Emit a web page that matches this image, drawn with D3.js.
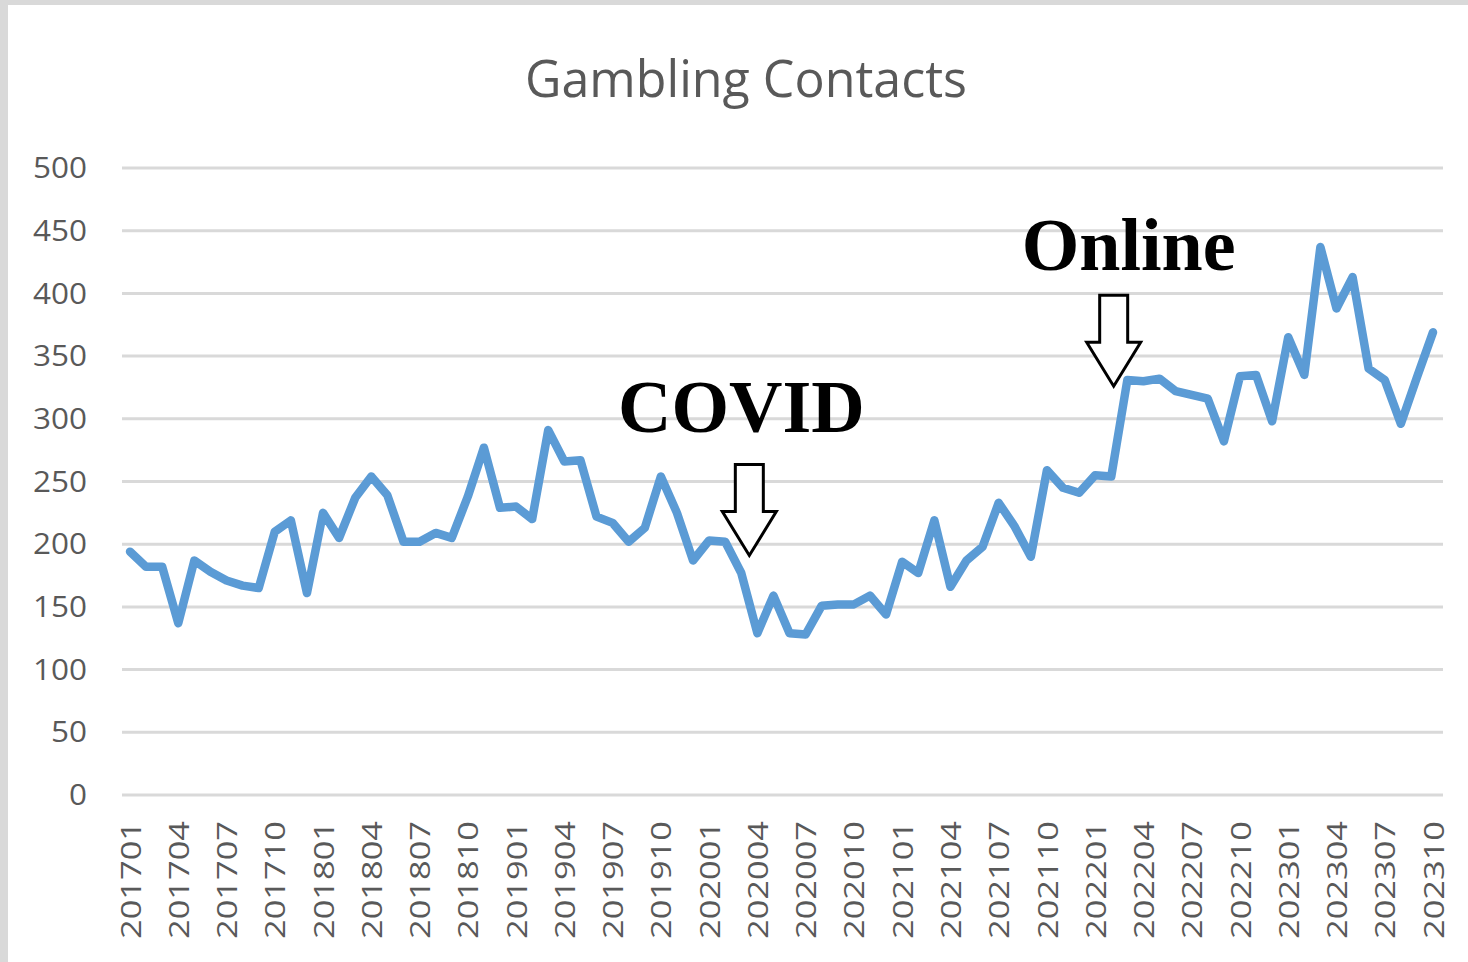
<!DOCTYPE html>
<html>
<head>
<meta charset="utf-8">
<script src="https://cdn.jsdelivr.net/npm/d3@7"></script>
<style>
  body { margin: 0; background: #fff; }
  svg { display: block; }
</style>
</head>
<body>
<div class="inner-content"></div>
<script>
// monthly categories, 2017-01 .. 2023-10
var months = [
  "201701","201702","201703","201704","201705","201706","201707","201708","201709","201710","201711","201712",
  "201801","201802","201803","201804","201805","201806","201807","201808","201809","201810","201811","201812",
  "201901","201902","201903","201904","201905","201906","201907","201908","201909","201910","201911","201912",
  "202001","202002","202003","202004","202005","202006","202007","202008","202009","202010","202011","202012",
  "202101","202102","202103","202104","202105","202106","202107","202108","202109","202110","202111","202112",
  "202201","202202","202203","202204","202205","202206","202207","202208","202209","202210","202211","202212",
  "202301","202302","202303","202304","202305","202306","202307","202308","202309","202310"
];

var contacts = [
  194, 182, 182, 137, 187, 178, 171, 167, 165, 210, 219, 161,
  225, 205, 237, 254, 239, 202, 202, 209, 205, 238, 277, 229,
  230, 220, 291, 266, 267, 222, 217, 202, 213, 254, 225, 187,
  203, 202, 177, 129, 159, 129, 128, 151, 152, 152, 159, 144,
  186, 177, 219, 166, 187, 198, 233, 214, 190, 259, 245, 241,
  255, 254, 331, 330, 332, 322, 319, 316, 282, 334, 335, 298,
  365, 335, 437, 388, 413, 340, 331, 296, 333, 369
];

var tickLabels = [
  "201701","201704","201707","201710","201801","201804","201807","201810",
  "201901","201904","201907","201910","202001","202004","202007","202010",
  "202101","202104","202107","202110","202201","202204","202207","202210",
  "202301","202304","202307","202310"
];

var yTicks = [0, 50, 100, 150, 200, 250, 300, 350, 400, 450, 500];

// annotations: text, month the arrow points at (+ part of a step), value at arrow tip
var noteLabels = ["COVID", "Online"];
var noteMonths = ["202003", "202202"];
var noteShift = [0.5, 0.15];
var noteValues = [191, 326];

var W = 1468, H = 962;

var svg = d3.select(".inner-content")
  .append("svg")
    .attr("width", W)
    .attr("height", H);

// grey frame on the left and top edges of the screenshot
svg.append("rect").attr("width", W).attr("height", H).attr("fill", "#d9d9d9");
svg.append("rect").attr("x", 8).attr("y", 5).attr("width", W - 8).attr("height", H - 5).attr("fill", "#fff");

var x = d3.scalePoint()
  .domain(months)
  .range([130, 1433]);

var y = d3.scaleLinear()
  .domain([0, 500])
  .range([795, 168]);

var step = x.step();

// title
svg.append("text")
  .attr("x", 746)
  .attr("y", 97)
  .attr("text-anchor", "middle")
  .attr("font-family", "'Open Sans', sans-serif")
  .attr("font-size", 52)
  .attr("textLength", 442)
  .attr("lengthAdjust", "spacingAndGlyphs")
  .attr("fill", "#595959")
  .text("Gambling Contacts");

// gridlines
svg.append("g")
  .selectAll("line")
  .data(yTicks)
  .enter()
  .append("line")
    .attr("x1", 122)
    .attr("x2", 1443)
    .attr("y1", d => y(d))
    .attr("y2", d => y(d))
    .attr("stroke", "#d9d9d9")
    .attr("stroke-width", 3);

// y axis labels
var yAxis = svg.append("g")
  .attr("transform", "translate(89,0)")
  .call(d3.axisLeft(y).tickValues(yTicks).tickSize(0).tickPadding(2));
yAxis.select(".domain").remove();
yAxis.selectAll("text")
  .attr("font-family", "'Open Sans', sans-serif")
  .attr("font-size", 30)
  .attr("textLength", d => String(d).length * 18)
  .attr("lengthAdjust", "spacingAndGlyphs")
  .attr("fill", "#595959");

// x axis labels, rotated
var xAxis = svg.append("g")
  .attr("transform", "translate(0,795)")
  .call(d3.axisBottom(x).tickValues(tickLabels).tickSize(0));
xAxis.select(".domain").remove();
xAxis.selectAll("text")
  .attr("font-family", "'Open Sans', sans-serif")
  .attr("font-size", 28)
  .attr("fill", "#595959")
  .attr("text-anchor", "end")
  .attr("textLength", 118)
  .attr("lengthAdjust", "spacingAndGlyphs")
  .attr("transform", "rotate(-90)")
  .attr("x", -26)
  .attr("y", 0)
  .attr("dy", "0.36em");

// the series
var line = d3.line()
  .x((d, i) => x(months[i]))
  .y(d => y(d));

svg.append("path")
  .datum(contacts)
  .attr("d", line)
  .attr("fill", "none")
  .attr("stroke", "#5b9bd5")
  .attr("stroke-width", 8.5)
  .attr("stroke-linejoin", "round")
  .attr("stroke-linecap", "round");

// annotation arrows + labels
noteLabels.forEach(function (lab, i) {
  var tx = x(noteMonths[i]) + noteShift[i] * step;
  var ty = y(noteValues[i]);
  var pts = [
    [tx - 14, ty - 91], [tx + 14, ty - 91], [tx + 14, ty - 44], [tx + 27, ty - 44],
    [tx, ty], [tx - 27, ty - 44], [tx - 14, ty - 44]
  ];
  svg.append("path")
    .attr("d", "M" + pts.map(p => p.join(",")).join("L") + "Z")
    .attr("fill", "#fff")
    .attr("stroke", "#000")
    .attr("stroke-width", 3)
    .attr("stroke-linejoin", "miter");

  svg.append("text")
    .attr("x", tx + (i === 0 ? -8 : 15))
    .attr("y", ty - (i === 0 ? 123 : 116))
    .attr("text-anchor", "middle")
    .attr("font-family", "'Liberation Serif', 'Times New Roman', serif")
    .attr("font-weight", "bold")
    .attr("font-size", 74)
    .attr("fill", "#000")
    .text(lab);
});
</script>
</body>
</html>
